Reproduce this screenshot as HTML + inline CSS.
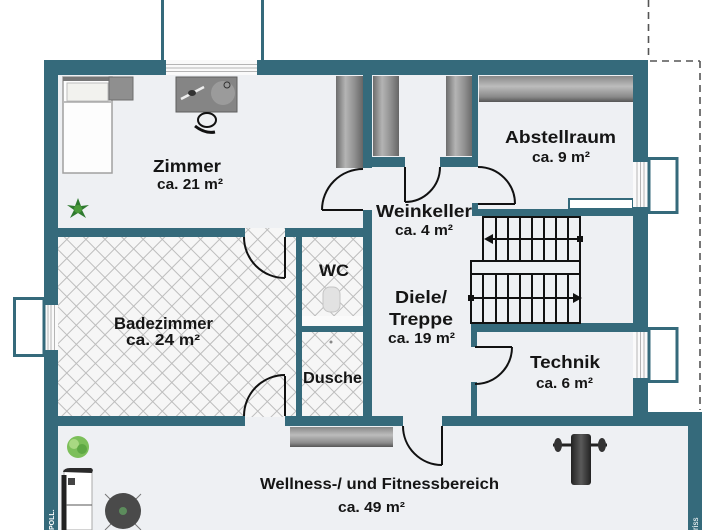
<!DOCTYPE html>
<html><head><meta charset="utf-8"><style>
html,body{margin:0;padding:0;background:#fff;}
svg{display:block;}
text{font-family:"Liberation Sans",Arial,sans-serif;font-weight:bold;fill:#151515;}
</style></head><body>
<svg width="720" height="530" viewBox="0 0 720 530" xmlns="http://www.w3.org/2000/svg">
<defs>
<pattern id="tile" width="13.5" height="13.5" patternUnits="userSpaceOnUse" patternTransform="rotate(45)">
<rect width="13.5" height="13.5" fill="#f6f6f6"/>
<path d="M0 0.5H13.5M0.5 0V13.5" stroke="#bdbdbd" stroke-width="1"/>
</pattern>
<linearGradient id="wv" x1="0" y1="0" x2="1" y2="0">
<stop offset="0" stop-color="#6c6c6c"/><stop offset="0.35" stop-color="#b4b4b4"/><stop offset="0.7" stop-color="#8e8e8e"/><stop offset="1" stop-color="#666"/>
</linearGradient>
<linearGradient id="wh" x1="0" y1="0" x2="0" y2="1">
<stop offset="0" stop-color="#888"/><stop offset="0.4" stop-color="#bcbcbc"/><stop offset="0.8" stop-color="#8a8a8a"/><stop offset="1" stop-color="#555"/>
</linearGradient>
<linearGradient id="bench" x1="0" y1="0" x2="1" y2="0">
<stop offset="0" stop-color="#222"/><stop offset="0.5" stop-color="#5a5a5a"/><stop offset="1" stop-color="#222"/>
</linearGradient>
</defs>

<!-- balcony lines top -->
<rect x="161" y="0" width="3" height="60" fill="#356a7b"/>
<rect x="261" y="0" width="3" height="60" fill="#356a7b"/>

<!-- dashed outline -->
<g stroke="#555" stroke-width="1.6" stroke-dasharray="7 5" fill="none">
<path d="M648.5 0V60"/>
<path d="M650 61H700"/>
<path d="M700 61V410"/>
</g>

<!-- floor -->
<polygon points="44,60 648,60 648,412 702,412 702,530 44,530" fill="#eef0f3"/>

<!-- tiled areas -->
<rect x="58" y="237" width="239" height="180" fill="url(#tile)"/>
<rect x="245" y="228" width="40" height="10" fill="url(#tile)"/>
<rect x="302" y="237" width="61" height="79" fill="url(#tile)"/>
<rect x="302" y="332" width="61" height="85" fill="url(#tile)"/>

<!-- Zimmer furniture -->
<rect x="63" y="77" width="49" height="96" fill="#fdfdfd" stroke="#a0a0a0" stroke-width="1.5"/>
<rect x="63" y="77" width="49" height="4" fill="#777"/>
<rect x="67" y="83" width="41" height="18" fill="#f2f2ee" stroke="#bdbdbd"/>
<path d="M64 102H111" stroke="#aaa" stroke-width="1.5"/>
<rect x="109" y="77" width="24" height="23" fill="#8f8f8f" stroke="#6e6e6e"/>
<rect x="176" y="77" width="61" height="35" fill="#858585" stroke="#5e5e5e"/>
<circle cx="223" cy="93" r="12" fill="#9b9b9b"/>
<circle cx="227" cy="85" r="3" fill="none" stroke="#333" stroke-width="1"/>
<path d="M181 99L204 87" stroke="#eee" stroke-width="2.5"/>
<ellipse cx="192" cy="93" rx="4" ry="3" fill="#333"/>
<ellipse cx="207" cy="120" rx="9" ry="7" fill="none" stroke="#111" stroke-width="2"/>
<path d="M195 126Q205 134 215 132" stroke="#111" stroke-width="3" fill="none"/>
<g transform="translate(78,209)" fill="#2f7a2f">
<path d="M0-11L3-3L11-4L4 1L8 9L0 4L-8 9L-4 1L-11-4L-3-3Z"/>
<circle r="4" fill="#4a9a3a"/>
</g>
<rect x="336" y="76" width="27" height="92" fill="url(#wv)"/>

<!-- Weinkeller wardrobes -->
<rect x="373" y="76" width="26" height="80" fill="url(#wv)"/>
<rect x="446" y="76" width="27" height="80" fill="url(#wv)"/>

<!-- Abstellraum wardrobe -->
<rect x="479" y="76" width="154" height="26" fill="url(#wh)"/>

<!-- WC toilet -->
<rect x="323" y="287" width="17" height="25" rx="7" fill="#e2e2e2" stroke="#c4c4c4"/>
<circle cx="331" cy="342" r="1.5" fill="#888"/>

<!-- Gym furniture -->
<rect x="290" y="427" width="103" height="20" fill="url(#wh)"/>
<g transform="translate(78,447)">
<circle r="11" fill="#7cbf5a"/>
<circle cx="-4" cy="-3" r="5" fill="#a8d982"/>
<circle cx="4" cy="2" r="5" fill="#5ea844"/>
</g>
<rect x="64" y="470" width="28" height="60" fill="#fff" stroke="#aaa"/>
<path d="M64 475V530" stroke="#222" stroke-width="5"/>
<path d="M63 472Q64 468 70 468H91Q94 469 92 473Z" fill="#2a2a2a"/>
<rect x="68" y="478" width="7" height="7" fill="#444"/>
<path d="M66 505H92" stroke="#555" stroke-width="1"/>
<g stroke="#777" stroke-width="1">
<path d="M105 494L141 530M141 494L105 530"/>
</g>
<circle cx="123" cy="511" r="18" fill="#4a4a4a"/>
<circle cx="123" cy="511" r="4" fill="#5c8c5c"/>
<path d="M553 445H607" stroke="#222" stroke-width="3"/>
<ellipse cx="558" cy="445" rx="4" ry="7" fill="#333"/>
<ellipse cx="602" cy="445" rx="4" ry="7" fill="#333"/>
<rect x="571" y="434" width="20" height="51" rx="3" fill="url(#bench)"/>

<!-- walls -->
<g fill="#356a7b">
<rect x="44" y="60" width="604" height="15"/>
<rect x="44" y="60" width="14" height="470"/>
<rect x="633" y="60" width="15" height="366"/>
<rect x="633" y="412" width="69" height="14"/>
<rect x="688" y="412" width="14" height="118"/>
<rect x="58" y="228" width="187" height="9"/>
<rect x="285" y="228" width="87" height="9"/>
<rect x="363" y="60" width="9" height="108"/>
<rect x="363" y="210" width="9" height="207"/>
<rect x="363" y="157" width="42" height="10"/>
<rect x="440" y="157" width="38" height="10"/>
<rect x="472" y="60" width="6" height="107"/>
<rect x="472" y="209" width="161" height="7"/>
<rect x="472" y="203" width="6" height="13"/>
<rect x="471" y="323" width="177" height="9"/>
<rect x="471" y="323" width="6" height="24"/>
<rect x="471" y="382" width="6" height="35"/>
<rect x="58" y="416" width="187" height="10"/>
<rect x="285" y="416" width="118" height="10"/>
<rect x="442" y="416" width="246" height="10"/>
<rect x="296" y="237" width="6" height="180"/>
<rect x="302" y="326" width="61" height="6"/>
</g>
<rect x="302" y="316" width="61" height="10" fill="#fafafa"/>
<rect x="569" y="199" width="64" height="10" fill="#fff" stroke="#356a7b" stroke-width="2"/>

<!-- windows -->
<rect x="166" y="60" width="91" height="15" fill="#fafafa"/>
<g stroke="#b5b5b5" stroke-width="1"><path d="M166 64.5H257M166 68H257M166 71.5H257"/></g>
<rect x="44" y="305" width="14" height="45" fill="#fafafa"/>
<g stroke="#b5b5b5"><path d="M48 305V350M51 305V350M54.5 305V350"/></g>
<rect x="633" y="162" width="15" height="45" fill="#fafafa"/>
<g stroke="#b5b5b5"><path d="M637 162V207M640.5 162V207M644 162V207"/></g>
<rect x="633" y="332" width="15" height="46" fill="#fafafa"/>
<g stroke="#b5b5b5"><path d="M637 332V378M640.5 332V378M644 332V378"/></g>
<g fill="#fff" stroke="#356a7b" stroke-width="3">
<rect x="14.5" y="298.5" width="29.5" height="57"/>
<rect x="649" y="158.5" width="28" height="54"/>
<rect x="649" y="328.5" width="28" height="53"/>
</g>

<!-- doors -->
<g stroke="#111" stroke-width="2" fill="none">
<path d="M322 210H363M363 169A41 41 0 0 0 322 210"/>
<path d="M405 167V202M405 202A35 35 0 0 0 440 167"/>
<path d="M478 204H515M478 167A37 37 0 0 1 515 204"/>
<path d="M285 237V278M244 237A41 41 0 0 0 285 278"/>
<path d="M285 376V416M285 375A41 41 0 0 0 244 416"/>
<path d="M475 347H512M512 347A37 37 0 0 1 475 384"/>
<path d="M442 426V465M403 426A39 39 0 0 0 442 465"/>
</g>

<!-- stairs -->
<g stroke="#111" stroke-width="2" fill="none">
<rect x="483" y="217" width="97" height="44"/>
<path d="M496 217V261M508 217V261M520 217V261M532 217V261M544 217V261M556 217V261M568 217V261"/>
<path d="M490 239H580"/>
<rect x="471" y="261" width="109" height="13"/>
<rect x="471" y="274" width="109" height="49"/>
<path d="M483 274V323M496 274V323M508 274V323M520 274V323M532 274V323M544 274V323M556 274V323M568 274V323"/>
<path d="M471 298H574"/>
</g>
<path d="M484 239L493 234V244Z" fill="#111"/>
<rect x="577" y="236" width="6" height="6" fill="#111"/>
<path d="M582 298L573 293V303Z" fill="#111"/>
<rect x="468" y="295" width="6" height="6" fill="#111"/>

<!-- labels -->
<text x="153" y="172" font-size="17.5" textLength="68" lengthAdjust="spacingAndGlyphs">Zimmer</text>
<text x="157" y="189" font-size="15" textLength="66" lengthAdjust="spacingAndGlyphs">ca. 21 m²</text>
<text x="505" y="143" font-size="17.5" textLength="111" lengthAdjust="spacingAndGlyphs">Abstellraum</text>
<text x="532" y="162" font-size="15" textLength="58" lengthAdjust="spacingAndGlyphs">ca. 9 m²</text>
<text x="376" y="217" font-size="17.5" textLength="96" lengthAdjust="spacingAndGlyphs">Weinkeller</text>
<text x="395" y="235" font-size="15" textLength="58" lengthAdjust="spacingAndGlyphs">ca. 4 m²</text>
<text x="319" y="276" font-size="17" textLength="30" lengthAdjust="spacingAndGlyphs">WC</text>
<text x="114" y="329" font-size="17" textLength="99" lengthAdjust="spacingAndGlyphs">Badezimmer</text>
<text x="126" y="345" font-size="15.5" textLength="74" lengthAdjust="spacingAndGlyphs">ca. 24 m²</text>
<text x="395" y="303" font-size="17.5" textLength="52" lengthAdjust="spacingAndGlyphs">Diele/</text>
<text x="389" y="325" font-size="17.5" textLength="64" lengthAdjust="spacingAndGlyphs">Treppe</text>
<text x="388" y="343" font-size="15" textLength="67" lengthAdjust="spacingAndGlyphs">ca. 19 m²</text>
<text x="530" y="368" font-size="17.5" textLength="70" lengthAdjust="spacingAndGlyphs">Technik</text>
<text x="536" y="388" font-size="15" textLength="57" lengthAdjust="spacingAndGlyphs">ca. 6 m²</text>
<text x="303" y="383" font-size="16" textLength="59" lengthAdjust="spacingAndGlyphs">Dusche</text>
<text x="260" y="489" font-size="15.5" textLength="239" lengthAdjust="spacingAndGlyphs">Wellness-/ und Fitnessbereich</text>
<text x="338" y="512" font-size="14.5" textLength="67" lengthAdjust="spacingAndGlyphs">ca. 49 m²</text>

<!-- watermark texts on walls -->
<text x="0" y="0" font-size="7" style="fill:#fff" transform="translate(54,530) rotate(-90)">POLL.</text>
<text x="0" y="0" font-size="8" style="fill:#fff;font-weight:normal" transform="translate(698,530) rotate(-90)">riss</text>
</svg>
</body></html>
